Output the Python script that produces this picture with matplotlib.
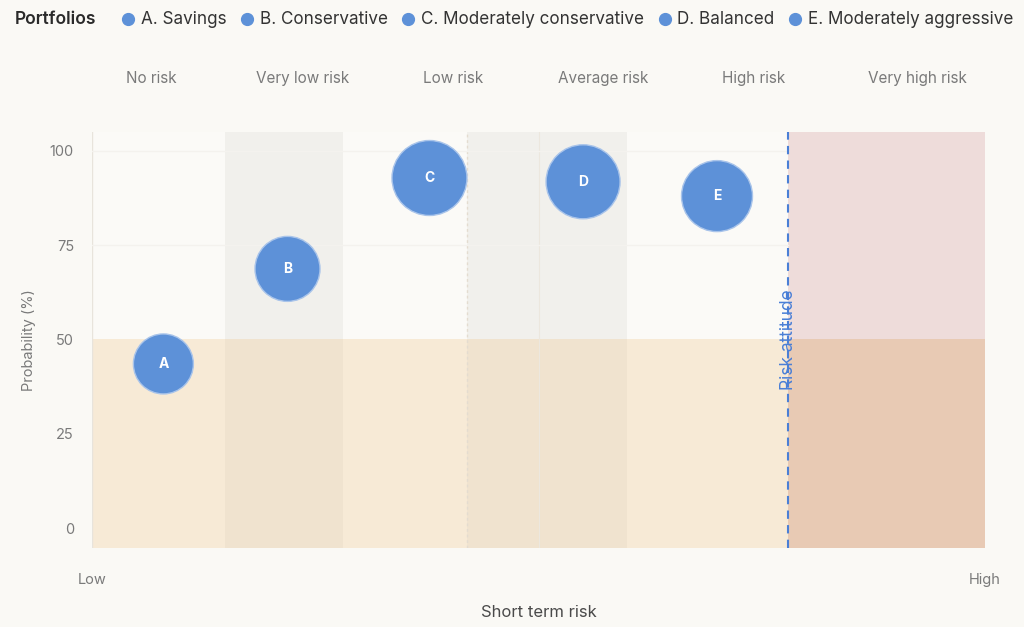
import matplotlib.pyplot as plt
from matplotlib.lines import Line2D
from matplotlib.transforms import blended_transform_factory

plt.rcParams['font.family'] = ['Inter', 'DejaVu Sans']

# ------------------------------------------------------------
# Data
# ------------------------------------------------------------
portfolios = ['A. Savings', 'B. Conservative', 'C. Moderately conservative',
              'D. Balanced', 'E. Moderately aggressive']
letters = ['A', 'B', 'C', 'D', 'E']
short_term_risk = [8.0, 21.9, 37.8, 55.0, 70.0]
probability = [43.5, 68.7, 92.8, 91.8, 88.0]
bubble_size = [60, 65, 75, 74, 71]

risk_bands = ['No risk', 'Very low risk', 'Low risk', 'Average risk',
              'High risk', 'Very high risk']
band_edges = [0, 14.9, 28.1, 42.0, 59.9, 78.0, 100]
band_label_x = [6.7, 23.6, 40.5, 57.3, 74.1, 92.4]
risk_attitude = 78.0
prob_threshold = 50

# ------------------------------------------------------------
# Colours
# ------------------------------------------------------------
BG = '#faf9f5'
LIGHT_TOP = '#fbfaf7'
GREY_TOP = '#f1f0ec'
LIGHT_BOT = '#f7ead6'
GREY_BOT = '#f0e3cf'
RED_TOP = '#eedcda'
RED_BOT = '#e8cab4'
BLUE = '#5d91d8'
LINE_BLUE = '#4a7fd6'
TXT = '#7a7a7a'

dpi = 100
fig = plt.figure(figsize=(10.24, 6.27), dpi=dpi, facecolor=BG)
ax = fig.add_axes([0.0898, 0.126, 0.872, 0.6635])
ax.set_facecolor(BG)

ymin, ymax = -5.3, 105
ax.set_xlim(0, 100)
ax.set_ylim(ymin, ymax)

# background bands
for i in range(len(risk_bands)):
    x0, x1 = band_edges[i], band_edges[i + 1]
    if i == len(risk_bands) - 1:
        top, bot = RED_TOP, RED_BOT
    elif i in (1, 3):
        top, bot = GREY_TOP, GREY_BOT
    else:
        top, bot = LIGHT_TOP, LIGHT_BOT
    ax.fill_between([x0, x1], prob_threshold, ymax, color=top, lw=0, zorder=0)
    ax.fill_between([x0, x1], ymin, prob_threshold, color=bot, lw=0, zorder=0)

# faint separators
ax.axvline(band_edges[3], color='#e4dcd0', lw=1, ls=(0, (2, 2)), zorder=1)
ax.axvline(50.1, color='#ece7de', lw=0.8, zorder=1)
ax.axvline(0, color='#e8e4dc', lw=1, zorder=1)
for yv in (100, 75):
    ax.axhline(yv, xmax=band_edges[-2] / 100, color='#f4f2ee', lw=1, zorder=1)

# risk attitude line
ax.axvline(risk_attitude, color=LINE_BLUE, lw=1.5, ls=(0, (4, 3)), zorder=2)
ax.text(risk_attitude, prob_threshold, 'Risk attitude', rotation=90,
        ha='center', va='center', color=LINE_BLUE, fontsize=12.5, zorder=3)

# bubbles
s = [(d * 72 / dpi) ** 2 for d in bubble_size]
ax.scatter(short_term_risk, probability, s=s, color=BLUE, edgecolor='#a9c4ea',
           linewidth=1, zorder=4)
for x, y, t in zip(short_term_risk, probability, letters):
    ax.text(x, y, t, ha='center', va='center', color='white',
            fontsize=10, fontweight='bold', zorder=5)

# band labels above plot
trans = blended_transform_factory(ax.transData, fig.transFigure)
for x, t in zip(band_label_x, risk_bands):
    ax.text(x, 1 - 83 / 627, t, transform=trans, ha='center', va='baseline',
            color=TXT, fontsize=11)

# axes
for sp in ax.spines.values():
    sp.set_visible(False)
ax.set_yticks([0, 25, 50, 75, 100])
ax.set_xticks([0, 100])
ax.set_xticklabels(['Low', 'High'])
ax.tick_params(axis='both', length=0, labelsize=10.5, labelcolor=TXT)
ax.tick_params(axis='y', pad=13)
ax.tick_params(axis='x', pad=18)
ax.set_ylabel('Probability (%)', color=TXT, fontsize=10.5, labelpad=10)
ax.set_xlabel('Short term risk', color='#4a4a4a', fontsize=12, labelpad=13)

# legend
fig.text(15 / 1024, 1 - 20 / 627, 'Portfolios', ha='left', va='center',
         fontsize=12.5, fontweight='semibold', color='#2a2a2a')
handles = [Line2D([], [], marker='o', ls='', color=BLUE, markersize=8.5)
           for _ in portfolios]
fig.legend(handles, portfolios, loc='center left',
           bbox_to_anchor=(115 / 1024, 1 - 20 / 627), ncol=5, frameon=False,
           handlelength=0.75, handletextpad=0.35, columnspacing=0.85,
           fontsize=12.3, labelcolor='#333333', borderaxespad=0)

fig.savefig('out.png', dpi=dpi, facecolor=BG)
